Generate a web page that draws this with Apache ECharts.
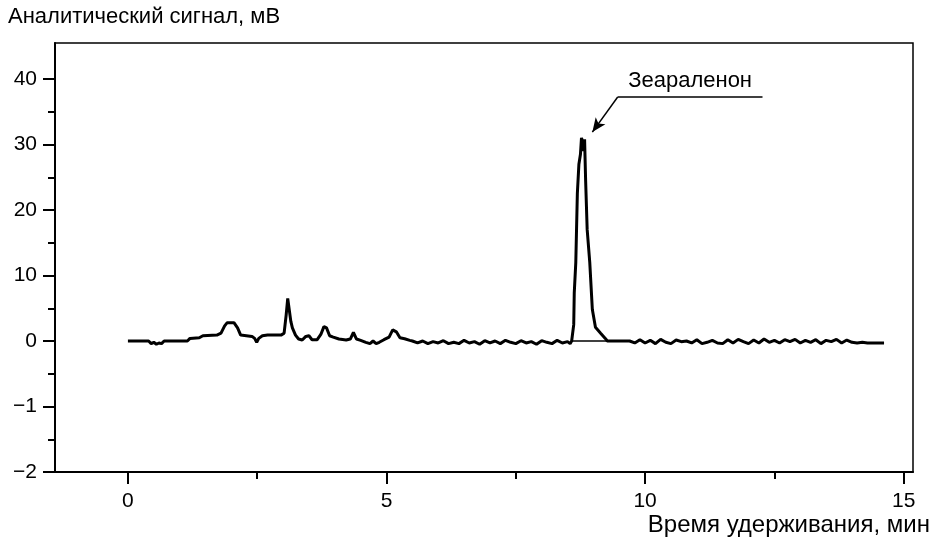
<!DOCTYPE html>
<html><head><meta charset="utf-8">
<script src="https://cdn.jsdelivr.net/npm/echarts@6/dist/echarts.min.js"></script>
<style>html,body{margin:0;padding:0;background:#fff}#c{width:936px;height:542px}</style>
</head><body><div id="c"></div>
<script>
// Retention time (min) and analytical signal (mV)
var times = [0,0.40,0.45,0.50,0.55,0.60,0.65,0.70,1.15,1.20,1.38,1.45,1.72,1.80,1.87,1.92,2.05,2.12,2.18,2.40,2.45,2.49,2.53,2.60,2.70,2.96,3.02,3.06,3.09,3.12,3.15,3.18,3.24,3.30,3.37,3.44,3.50,3.56,3.66,3.73,3.79,3.84,3.90,3.97,4.08,4.22,4.30,4.36,4.42,4.50,4.60,4.68,4.74,4.80,4.86,4.95,5.05,5.12,5.19,5.26,5.35,5.45,
 5.50,5.60,5.70,5.80,5.90,6.00,6.10,6.20,6.30,6.40,6.50,6.60,6.70,6.80,6.90,7.00,7.10,7.20,7.30,7.40,7.50,7.60,7.70,7.80,7.90,8.00,8.10,8.20,8.30,8.40,8.50,8.55,
 8.58,8.60,8.62,8.63,8.66,8.69,8.72,8.75,8.77,8.79,8.81,8.83,8.85,8.88,8.93,8.98,9.04,9.14,9.23,9.27,
 9.50,9.70,9.80,9.90,10.0,10.1,10.2,10.3,10.4,10.5,10.6,10.7,10.8,10.9,11.0,11.1,11.2,11.3,11.4,11.5,11.6,11.7,11.8,11.9,12.0,12.1,12.2,12.3,12.4,12.5,12.6,12.7,12.8,12.9,13.0,13.1,13.2,13.3,13.4,13.5,13.6,13.7,13.8,13.9,14.0,14.1,14.2,14.3,14.4,14.5,14.62];
var signal = [0,0,-0.04,-0.02,-0.05,-0.03,-0.04,0,0,0.4,0.5,0.8,0.9,1.2,2.3,2.8,2.8,2.0,0.9,0.7,0.4,-0.02,0.4,0.8,0.9,0.9,1.2,4.0,6.5,6.2,3.0,2.0,0.9,0.3,0.15,0.7,0.8,0.2,0.2,1.0,2.2,2.0,0.8,0.6,0.3,0.15,0.3,1.3,0.3,0.1,-0.02,-0.04,0,-0.04,-0.02,0.2,0.6,1.7,1.4,0.5,0.35,0.1,
 0,-0.03,0,-0.04,-0.01,-0.03,0.05,-0.04,-0.02,-0.04,0.1,-0.03,-0.01,-0.05,0.05,-0.03,0,-0.04,0.1,-0.02,-0.04,0.05,-0.03,-0.01,-0.05,0.05,-0.02,-0.04,0.1,-0.03,-0.01,-0.04,
 0,0.3,2.5,7.3,12.0,22.5,27.0,28.5,31.0,30.5,29.0,30.8,24.5,17.0,12.0,4.8,2.1,1.2,0.4,0,
 0,0,-0.03,0.2,-0.03,0.1,-0.04,0.25,-0.02,-0.04,0.15,-0.01,0,-0.03,0.2,-0.04,-0.02,0.1,-0.03,-0.04,0.2,-0.03,0.25,-0.01,-0.04,0.15,-0.03,0.3,-0.02,0.1,-0.03,0.2,-0.01,0.25,-0.03,0.1,-0.02,0.2,-0.04,0.1,-0.01,0.25,-0.03,0.15,-0.02,-0.03,-0.02,-0.03,-0.03,-0.03,-0.03];
// integration baseline under the peak
var baseTimes = [8.58, 9.27];
var baseValues = [0, 0];
// axis ticks
var yTicks = [-2,-1,0,10,20,30,40];
var yMinorTicks = [-1.5,-0.5,5,15,25,35];
var xTicks = [0,5,10,15];
var xMinorTicks = [2.5,7.5,12.5];
var peakName = 'Зеараленон';
var yTitle = 'Аналитический сигнал, мВ';
var xTitle = 'Время удерживания, мин';

// piecewise axis: 10 mV per step above zero, 1 mV per step below zero
function tr(v){ return v >= 0 ? v/10 : v; }
function inv(u){ return u >= 0 ? Math.round(u*10) : Math.round(u*10)/10; }
function fmt(u){ var v = inv(u); return v < 0 ? '\u2212' + Math.abs(v) : String(v); }

var FONT = 'Liberation Sans, Arial, sans-serif';
var FS = 21, FT = 22, FX = 24;
var sigData = times.map(function(t,i){ return [t, tr(signal[i])]; });
var baseData = baseTimes.map(function(t,i){ return [t, tr(baseValues[i])]; });

var yMin = -2, yMax = 4.55, xMin = -1.41, xMax = 15.18;
var common = { type:'value', splitLine:{show:false} };
var chart = echarts.init(document.getElementById('c'), null, {renderer:'canvas'});
chart.setOption({
  animation:false,
  backgroundColor:'#fff',
  grid:{left:55,right:23,top:43,bottom:70,show:true,borderColor:'#000',borderWidth:1.5,backgroundColor:'transparent'},
  xAxis:[
    Object.assign({}, common, {min:xMin,max:xMax,position:'bottom',
      axisLine:{show:true,onZero:false,lineStyle:{color:'#000',width:2}},
      axisTick:{show:true,length:12,lineStyle:{color:'#000',width:2},customValues:xTicks},
      axisLabel:{show:true,margin:19,color:'#000',fontSize:FS,fontFamily:FONT,customValues:xTicks}}),
    Object.assign({}, common, {min:xMin,max:xMax,position:'bottom',
      axisLine:{show:false,onZero:false},
      axisTick:{show:true,length:7,lineStyle:{color:'#000',width:2},customValues:xMinorTicks},
      axisLabel:{show:false}})
  ],
  yAxis:[
    Object.assign({}, common, {min:yMin,max:yMax,position:'left',
      axisLine:{show:true,onZero:false,lineStyle:{color:'#000',width:2}},
      axisTick:{show:true,length:12,lineStyle:{color:'#000',width:2},customValues:yTicks.map(tr)},
      axisLabel:{show:true,margin:18,color:'#000',fontSize:FS,fontFamily:FONT,customValues:yTicks.map(tr),formatter:fmt}}),
    Object.assign({}, common, {min:yMin,max:yMax,position:'left',
      axisLine:{show:false,onZero:false},
      axisTick:{show:true,length:7,lineStyle:{color:'#000',width:2},customValues:yMinorTicks.map(tr)},
      axisLabel:{show:false}})
  ],
  series:[
    {type:'line',data:sigData,showSymbol:false,symbol:'none',lineStyle:{color:'#000',width:3},z:3},
    {type:'line',data:baseData,showSymbol:false,symbol:'none',lineStyle:{color:'#000',width:1.5},z:2,
      markLine:{silent:true,symbol:['none','none'],animation:false,
        lineStyle:{color:'#000',width:1.5,type:'solid'},
        data:[
          [{coord:[9.47,tr(37.25)],symbol:'none'},{coord:[12.27,tr(37.25)],symbol:'none',
            label:{show:true,position:'insideMiddleTop',formatter:peakName,color:'#000',fontSize:FT,fontFamily:FONT,distance:5}}],
          [{coord:[9.47,tr(37.25)],symbol:'none'},{coord:[8.98,tr(31.9)],symbol:'arrow',symbolSize:[9,14],label:{show:false}}]
        ]}}
  ],
  graphic:[
    {type:'text',left:8,top:6,style:{text:yTitle,fill:'#000',font:FT+'px '+FONT}},
    {type:'text',right:6,top:513,style:{text:xTitle,fill:'#000',font:FX+'px '+FONT}}
  ]
});
</script></body></html>
